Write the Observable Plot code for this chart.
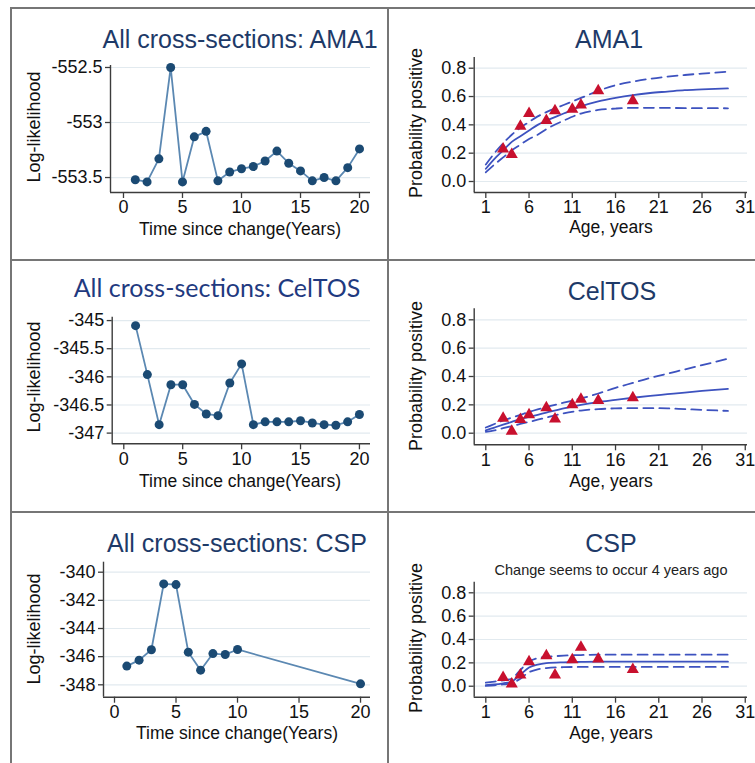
<!DOCTYPE html>
<html><head><meta charset="utf-8">
<script src="https://cdn.jsdelivr.net/npm/d3@7"></script>
<script src="https://cdn.jsdelivr.net/npm/@observablehq/plot@0.6"></script>
<style>
body{margin:0;background:#fff;}
#root{position:relative;width:755px;height:763px;overflow:hidden;background:#fff;}
.ln{position:absolute;background:#767676;}
</style></head><body><div id="root"></div>
<script>
// ---------- data ----------
const llYears = [1,2,3,4,5,6,7,8,9,10,11,12,13,14,15,16,17,18,19,20];
const llAMA1 = [-553.52,-553.54,-553.33,-552.50,-553.54,-553.13,-553.08,-553.53,-553.45,-553.42,-553.40,-553.35,-553.26,-553.37,-553.44,-553.53,-553.50,-553.53,-553.41,-553.24];
const llCelTOS = [-345.09,-345.96,-346.85,-346.14,-346.14,-346.49,-346.66,-346.69,-346.11,-345.77,-346.85,-346.80,-346.80,-346.80,-346.78,-346.82,-346.85,-346.86,-346.80,-346.67];
const cspYears = [1,2,3,4,5,6,7,8,9,10,20];
const llCSP = [-346.67,-346.25,-345.51,-340.83,-340.88,-345.68,-346.96,-345.78,-345.85,-345.49,-347.93];

const obsAges = [3,4,5,6,8,9,11,12,14,18];
const obsAMA1 = [0.23,0.19,0.39,0.48,0.43,0.50,0.51,0.54,0.64,0.57];
const obsCelTOS = [0.106,0.014,0.096,0.13,0.18,0.10,0.20,0.24,0.23,0.25];
const obsCSP = [0.074,0.02,0.097,0.21,0.26,0.097,0.226,0.334,0.234,0.143];

const fitAges = [1,2,3,4,5,6,7,8,10,12,14,16,18,20,22,24,26,29];
const fitAMA1   = [0.09,0.16,0.22,0.28,0.32,0.36,0.40,0.43,0.48,0.53,0.565,0.59,0.61,0.625,0.635,0.645,0.65,0.657];
const fitAMA1Hi = [0.12,0.20,0.27,0.33,0.38,0.42,0.46,0.49,0.54,0.59,0.64,0.68,0.705,0.725,0.74,0.752,0.762,0.775];
const fitAMA1Lo = [0.065,0.12,0.17,0.22,0.26,0.30,0.33,0.37,0.43,0.48,0.505,0.515,0.52,0.52,0.52,0.518,0.518,0.517];
const fitCelTOS   = [0.02,0.04,0.06,0.08,0.10,0.115,0.13,0.145,0.175,0.20,0.22,0.235,0.25,0.263,0.275,0.287,0.298,0.312];
const fitCelTOSHi = [0.04,0.065,0.09,0.11,0.13,0.15,0.168,0.185,0.215,0.245,0.28,0.32,0.355,0.39,0.42,0.45,0.48,0.525];
const fitCelTOSLo = [0.01,0.02,0.035,0.05,0.065,0.08,0.095,0.11,0.14,0.16,0.17,0.175,0.177,0.177,0.175,0.17,0.165,0.157];
const fitCSP   = [0.01,0.015,0.025,0.04,0.10,0.16,0.185,0.197,0.205,0.208,0.21,0.21,0.21,0.21,0.21,0.21,0.21,0.21];
const fitCSPHi = [0.03,0.04,0.05,0.065,0.14,0.21,0.24,0.25,0.262,0.267,0.27,0.27,0.27,0.27,0.27,0.27,0.27,0.27];
const fitCSPLo = [0.003,0.008,0.015,0.025,0.065,0.12,0.145,0.155,0.163,0.165,0.165,0.165,0.165,0.165,0.165,0.165,0.165,0.165];

const llTicksX = [0,5,10,15,20];
const llTickLabelsX = ["0","5","10","15","20"];
const ageTicks = [1,6,11,16,21,26,31];
const ageTickLabels = ["1","6","11","16","21","26","31"];
const probTicks = [0,0.2,0.4,0.6,0.8];
const probTickLabels = ["0.0","0.2","0.4","0.6","0.8"];
const ama1LLTicks = [-552.5,-553,-553.5];
const ama1LLLabels = ["-552.5","-553","-553.5"];
const celLLTicks = [-345,-345.5,-346,-346.5,-347];
const celLLLabels = ["-345","-345.5","-346","-346.5","-347"];
const cspLLTicks = [-340,-342,-344,-346,-348];
const cspLLLabels = ["-340","-342","-344","-346","-348"];

// ---------- styling ----------
const root = document.getElementById("root");
const FONT = "'Liberation Sans', Arial, sans-serif";
const AX = "#3c3c3c";
const GRID = "#e2eaef";
const PT = "#1b4a73", PTLINE = "#5b88b2";
const RED = "#c8102e", FIT = "#3d52bf";

function panel({box, axis, xdom, ydom, xticks, xlabels, yticks, ylabels, marks}) {
  const [bx, by, bw, bh] = box;
  const [L, R, T, B] = axis;
  const svg = Plot.plot({
    width: bw, height: bh,
    marginLeft: L - bx, marginRight: bx + bw - R, marginTop: T - by, marginBottom: by + bh - B,
    x: {domain: xdom}, y: {domain: ydom},
    style: {fontFamily: FONT, fontSize: "18px", color: "#111", background: "transparent", overflow: "visible", maxWidth: "none"},
    marks: [
      Plot.gridY(yticks, {stroke: GRID, strokeOpacity: 1, strokeWidth: 1.2}),
      Plot.ruleX([xdom[0]], {stroke: AX, strokeWidth: 1.4}),
      Plot.ruleY([ydom[0]], {stroke: AX, strokeWidth: 1.4}),
      Plot.axisX({ticks: xticks, tickSize: 6, tickPadding: 2, tickFormat: d => xlabels[xticks.indexOf(d)], label: null, stroke: AX, fill: "#111", strokeWidth: 1.3}),
      Plot.axisY({ticks: yticks, tickSize: 5, tickPadding: 3, tickFormat: d => ylabels[yticks.indexOf(d)], label: null, stroke: AX, fill: "#111", strokeWidth: 1.3}),
      ...marks
    ]
  });
  svg.style.position = "absolute";
  svg.style.left = bx + "px";
  svg.style.top = by + "px";
  root.appendChild(svg);
}

const pts = (xs, ys) => xs.map((x, i) => ({x, y: ys[i]}));

function llMarks(xs, ys) {
  const d = pts(xs, ys);
  return [
    Plot.line(d, {x: "x", y: "y", stroke: PTLINE, strokeWidth: 1.8}),
    Plot.dot(d, {x: "x", y: "y", r: 4.5, fill: PT, stroke: "none"})
  ];
}
function probMarks(mid, lo, hi, obs) {
  return [
    Plot.line(pts(fitAges, hi), {x: "x", y: "y", stroke: FIT, strokeWidth: 1.8, strokeDasharray: "10,6", curve: "monotone-x"}),
    Plot.line(pts(fitAges, lo), {x: "x", y: "y", stroke: FIT, strokeWidth: 1.8, strokeDasharray: "10,6", curve: "monotone-x"}),
    Plot.line(pts(fitAges, mid), {x: "x", y: "y", stroke: FIT, strokeWidth: 1.8, curve: "monotone-x"}),
    Plot.dot(pts(obsAges, obs), {x: "x", y: "y", symbol: "triangle", r: 4.5, fill: RED, stroke: "none"})
  ];
}

// Row 1
panel({box: [12, 9, 375, 250], axis: [110, 370, 65, 192], xdom: [-1.10, 20.93], ydom: [-553.636, -552.482],
  xticks: llTicksX, xlabels: llTickLabelsX, yticks: ama1LLTicks, ylabels: ama1LLLabels, marks: llMarks(llYears, llAMA1)});
panel({box: [390, 9, 365, 250], axis: [473.7, 747, 57, 192], xdom: [-0.342, 31.26], ydom: [-0.0777, 0.8756],
  xticks: ageTicks, xlabels: ageTickLabels, yticks: probTicks, ylabels: probTickLabels, marks: probMarks(fitAMA1, fitAMA1Lo, fitAMA1Hi, obsAMA1)});
// Row 2
panel({box: [12, 261, 375, 250], axis: [111.7, 370, 316.7, 443.3], xdom: [-0.984, 20.94], ydom: [-347.19, -344.94],
  xticks: llTicksX, xlabels: llTickLabelsX, yticks: celLLTicks, ylabels: celLLLabels, marks: llMarks(llYears, llCelTOS)});
panel({box: [390, 261, 365, 250], axis: [473.7, 747, 308.3, 444.3], xdom: [-0.342, 31.26], ydom: [-0.0818, 0.8776],
  xticks: ageTicks, xlabels: ageTickLabels, yticks: probTicks, ylabels: probTickLabels, marks: probMarks(fitCelTOS, fitCelTOSLo, fitCelTOSHi, obsCelTOS)});
// Row 3
panel({box: [12, 513, 375, 250], axis: [103, 370, 561.7, 696.7], xdom: [-0.894, 20.81], ydom: [-348.88, -339.29],
  xticks: llTicksX, xlabels: llTickLabelsX, yticks: cspLLTicks, ylabels: cspLLLabels, marks: llMarks(cspYears, llCSP)});
panel({box: [390, 513, 365, 250], axis: [473.7, 747, 581.7, 696.7], xdom: [-0.342, 31.26], ydom: [-0.094, 0.8908],
  xticks: ageTicks, xlabels: ageTickLabels, yticks: probTicks, ylabels: probTickLabels, marks: probMarks(fitCSP, fitCSPLo, fitCSPHi, obsCSP)});

// ---------- frame lines ----------
[[10, 7, 2, 756], [10, 7, 745, 2], [387, 7, 2, 756], [10, 259, 745, 2], [10, 511, 745, 2]].forEach(([l, t, w, h]) => {
  const d = document.createElement("div");
  d.className = "ln";
  Object.assign(d.style, {left: l + "px", top: t + "px", width: w + "px", height: h + "px"});
  root.appendChild(d);
});

// ---------- text ----------
const ov = d3.select(root).append("svg").attr("width", 755).attr("height", 763)
  .style("position", "absolute").style("left", "0px").style("top", "0px").style("pointer-events", "none");
const texts = [
  {t: "All cross-sections: AMA1", x: 240, y: 48, s: 25, c: "#1e3a68"},
  {t: "AMA1", x: 609, y: 48, s: 25, c: "#1e3a68"},
  {t: "All cross-sections: CelTOS", x: 217, y: 297, s: 25, c: "#1f3a80", f: "Lato, 'Open Sans', sans-serif"},
  {t: "CelTOS", x: 612, y: 300, s: 25, c: "#1e3a68"},
  {t: "All cross-sections: CSP", x: 237, y: 552, s: 25, c: "#1e3a68"},
  {t: "CSP", x: 611, y: 552, s: 25, c: "#1e3a68"},
  {t: "Change seems to occur 4 years ago", x: 611, y: 575, s: 14.5, c: "#222"},
  {t: "Time since change(Years)", x: 240, y: 235, s: 17.5, c: "#111"},
  {t: "Age, years", x: 611, y: 233, s: 17.5, c: "#111"},
  {t: "Time since change(Years)", x: 240, y: 487, s: 17.5, c: "#111"},
  {t: "Age, years", x: 611, y: 487, s: 17.5, c: "#111"},
  {t: "Time since change(Years)", x: 237, y: 739, s: 17.5, c: "#111"},
  {t: "Age, years", x: 611, y: 739, s: 17.5, c: "#111"},
  {t: "Log-likelihood", x: 40, y: 127, s: 18, c: "#111", r: true},
  {t: "Probability positive", x: 422, y: 123, s: 18, c: "#111", r: true},
  {t: "Log-likelihood", x: 40, y: 377, s: 18, c: "#111", r: true},
  {t: "Probability positive", x: 422, y: 376, s: 18, c: "#111", r: true},
  {t: "Log-likelihood", x: 40, y: 629, s: 18, c: "#111", r: true},
  {t: "Probability positive", x: 422, y: 638, s: 18, c: "#111", r: true}
];
texts.forEach(o => {
  ov.append("text").text(o.t)
    .attr("transform", o.r ? `translate(${o.x},${o.y}) rotate(-90)` : `translate(${o.x},${o.y})`)
    .attr("text-anchor", "middle")
    .style("font-family", o.f || FONT).style("font-size", o.s + "px").style("fill", o.c);
});
</script></body></html>
